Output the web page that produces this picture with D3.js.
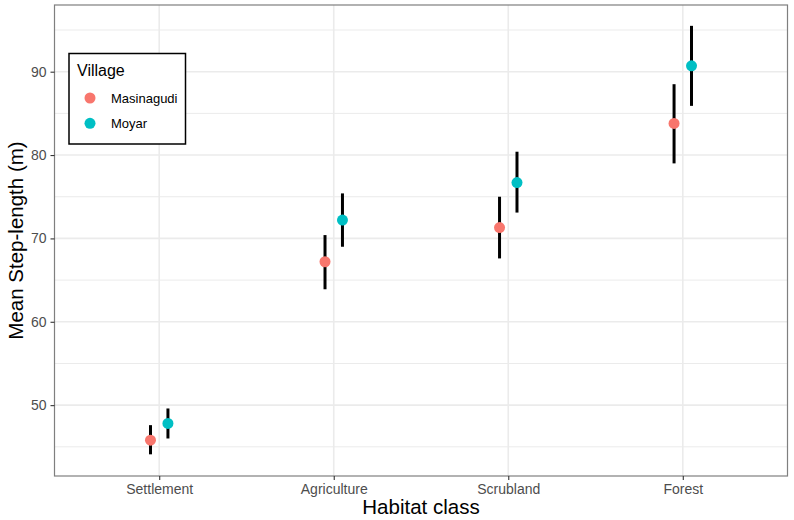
<!DOCTYPE html>
<html>
<head>
<meta charset="utf-8">
<script src="https://cdn.jsdelivr.net/npm/d3@7"></script>
<style>
  body { margin: 0; background: #fff; }
  text { font-family: "Liberation Sans", Arial, sans-serif; }
</style>
</head>
<body>
<svg id="chart" width="794" height="520"></svg>
<script>
// data
const habitats = ["Settlement", "Agriculture", "Scrubland", "Forest"];
const villages = ["Masinagudi", "Moyar"];
const villageColors = ["#F8766D", "#00BFC4"];

const masinagudiMean = [45.8, 67.2, 71.3, 83.8];
const masinagudiLow  = [44.1, 63.9, 67.6, 79.0];
const masinagudiHigh = [47.6, 70.4, 75.0, 88.5];

const moyarMean = [47.8, 72.2, 76.7, 90.7];
const moyarLow  = [46.0, 69.0, 73.1, 85.9];
const moyarHigh = [49.6, 75.4, 80.4, 95.5];

const yTicks = [50, 60, 70, 80, 90];
const yMinor = [45, 55, 65, 75, 85, 95];

const series = [
    { name: villages[0], mean: masinagudiMean, low: masinagudiLow, high: masinagudiHigh },
    { name: villages[1], mean: moyarMean, low: moyarLow, high: moyarHigh }
];

let rows = [];
series.forEach((s, si) => {
    habitats.forEach((h, i) => {
        rows.push({ habitat: h, idx: i, village: s.name, vi: si, mean: s.mean[i], low: s.low[i], high: s.high[i] });
    });
});

const panel = { left: 54.5, top: 5, right: 787.5, bottom: 476 };
const svg = d3.select("#chart");

// discrete x like ggplot: positions 1..4 with 0.6 expansion
let x = d3.scaleLinear().domain([0.4, 4.6]).range([panel.left, panel.right]);
let y = d3.scaleLinear().domain([41.5, 98.0]).range([panel.bottom, panel.top]);
const dodge = 0.05;

svg.append("rect")
    .attr("x", panel.left).attr("y", panel.top)
    .attr("width", panel.right - panel.left).attr("height", panel.bottom - panel.top)
    .attr("fill", "#fff");

// grid
svg.selectAll(".minor").data(yMinor).enter().append("line")
    .attr("x1", panel.left).attr("x2", panel.right)
    .attr("y1", d => y(d)).attr("y2", d => y(d))
    .attr("stroke", "#EBEBEB").attr("stroke-width", 1);
svg.selectAll(".major").data(yTicks).enter().append("line")
    .attr("x1", panel.left).attr("x2", panel.right)
    .attr("y1", d => y(d)).attr("y2", d => y(d))
    .attr("stroke", "#EBEBEB").attr("stroke-width", 1.6);
svg.selectAll(".vgrid").data(habitats).enter().append("line")
    .attr("x1", (d, i) => x(i + 1)).attr("x2", (d, i) => x(i + 1))
    .attr("y1", panel.top).attr("y2", panel.bottom)
    .attr("stroke", "#EBEBEB").attr("stroke-width", 1.6);

// error bars
svg.selectAll(".err").data(rows).enter().append("line")
    .attr("x1", d => x(d.idx + 1 + (d.vi === 0 ? -dodge : dodge)))
    .attr("x2", d => x(d.idx + 1 + (d.vi === 0 ? -dodge : dodge)))
    .attr("y1", d => y(d.low)).attr("y2", d => y(d.high))
    .attr("stroke", "#000").attr("stroke-width", 3);

// points
svg.selectAll(".pt").data(rows).enter().append("circle")
    .attr("cx", d => x(d.idx + 1 + (d.vi === 0 ? -dodge : dodge)))
    .attr("cy", d => y(d.mean))
    .attr("r", 5.5)
    .attr("fill", d => villageColors[d.vi]);

// panel border
svg.append("rect")
    .attr("x", panel.left).attr("y", panel.top)
    .attr("width", panel.right - panel.left).attr("height", panel.bottom - panel.top)
    .attr("fill", "none").attr("stroke", "#7f7f7f").attr("stroke-width", 1.2);

// y axis
let yAxis = svg.append("g").attr("transform", `translate(${panel.left},0)`)
    .call(d3.axisLeft(y).tickValues(yTicks).tickSize(4).tickPadding(4));
yAxis.select(".domain").remove();
yAxis.selectAll("line").attr("stroke", "#333").attr("stroke-width", 1.1);
yAxis.selectAll("text").attr("fill", "#4D4D4D").style("font-size", "14px")
    .style("font-family", "Liberation Sans, Arial, sans-serif");

// x axis
let xBand = d3.scalePoint().domain(habitats).range([x(1), x(4)]);
let xAxis = svg.append("g").attr("transform", `translate(0,${panel.bottom})`)
    .call(d3.axisBottom(xBand).tickSize(4).tickPadding(4));
xAxis.select(".domain").remove();
xAxis.selectAll("line").attr("stroke", "#333").attr("stroke-width", 1.1);
xAxis.selectAll("text").attr("fill", "#4D4D4D").style("font-size", "14px")
    .style("font-family", "Liberation Sans, Arial, sans-serif");

// axis titles
svg.append("text")
    .attr("x", (panel.left + panel.right) / 2).attr("y", 514)
    .attr("text-anchor", "middle").style("font-size", "20.5px").attr("fill", "#000")
    .text("Habitat class");
svg.append("text")
    .attr("transform", `translate(23,${(panel.top + panel.bottom) / 2}) rotate(-90)`)
    .attr("text-anchor", "middle").style("font-size", "20.5px").attr("fill", "#000")
    .text("Mean Step-length (m)");

// legend
let legend = svg.append("g");
legend.append("rect")
    .attr("x", 69).attr("y", 53.5).attr("width", 116.5).attr("height", 90.5)
    .attr("fill", "#fff").attr("stroke", "#000").attr("stroke-width", 1.5);
legend.append("text").attr("x", 77).attr("y", 75.5)
    .style("font-size", "16px").attr("fill", "#000").text("Village");
legend.selectAll(".key").data(villages).enter().append("circle")
    .attr("cx", 90).attr("cy", (d, i) => 98 + i * 25.3)
    .attr("r", 5.5).attr("fill", (d, i) => villageColors[i]);
legend.selectAll(".lab").data(villages).enter().append("text")
    .attr("x", 111).attr("y", (d, i) => 98 + i * 25.3 + 4.5)
    .style("font-size", "13px").attr("fill", "#000").text(d => d);
</script>
</body>
</html>
